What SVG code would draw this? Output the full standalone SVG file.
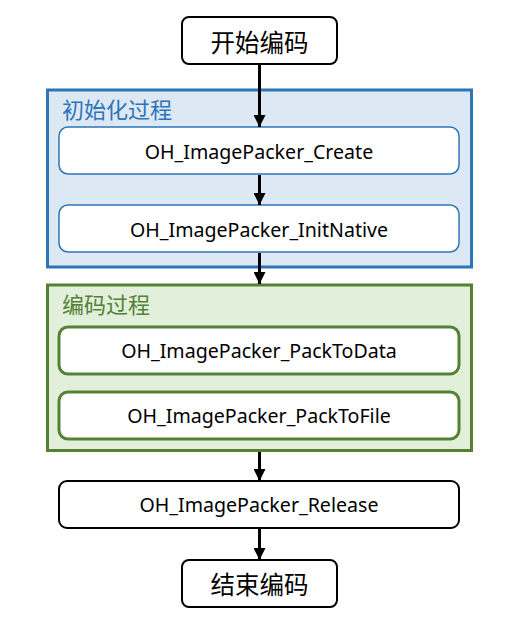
<svg xmlns="http://www.w3.org/2000/svg" width="512" height="631" viewBox="0 0 512 631">
<defs>
<marker id="arr" viewBox="0 0 12 12" refX="12" refY="6" markerWidth="12" markerHeight="12" markerUnits="userSpaceOnUse" orient="auto">
<path d="M0,0 L12,6 L0,12 Z" fill="#000"/>
</marker>
<style>
.t{font-family:"Noto Sans","Liberation Sans","Noto Sans CJK SC",sans-serif;font-size:19.6px;fill:#000;text-anchor:middle;dominant-baseline:central}
.big{font-family:"Noto Sans CJK SC","Noto Sans",sans-serif;font-size:24.5px;fill:#000;text-anchor:middle;dominant-baseline:central}
.gt{font-family:"Noto Sans CJK SC","Noto Sans",sans-serif;font-size:22px}
.term{fill:#fff;stroke:#000;stroke-width:2}
.bn{fill:#fff;stroke:#2e75b6;stroke-width:1.5}
.gn{fill:#fff;stroke:#548235;stroke-width:3}
.edge{stroke:#000;stroke-width:3;fill:none;marker-end:url(#arr)}
</style>
</defs>
<rect width="512" height="631" fill="#fff"/>
<g id="grp-init">
<rect x="47.5" y="90" width="424" height="177" fill="#dde8f5" stroke="#2e75b6" stroke-width="3"/>
<text class="gt" x="62" y="118" fill="#2e75b6">初始化过程</text>
</g>
<g id="grp-encode">
<rect x="47.5" y="285" width="424" height="165.5" fill="#e2efda" stroke="#548235" stroke-width="3"/>
<text class="gt" x="62" y="313" fill="#548235">编码过程</text>
</g>
<g id="start">
<rect class="term" x="182" y="17" width="155" height="47" rx="7"/>
<text class="big" x="259.5" y="41">开始编码</text>
</g>
<g id="create">
<rect class="bn" x="59" y="127" width="400" height="47" rx="9"/>
<text class="t" x="259" y="151">OH_ImagePacker_Create</text>
</g>
<g id="initnative">
<rect class="bn" x="59" y="205" width="400" height="47" rx="9"/>
<text class="t" x="259" y="229">OH_ImagePacker_InitNative</text>
</g>
<g id="packtodata">
<rect class="gn" x="59" y="327" width="400" height="47" rx="9"/>
<text class="t" x="259" y="350">OH_ImagePacker_PackToData</text>
</g>
<g id="packtofile">
<rect class="gn" x="59" y="392" width="400" height="47" rx="9"/>
<text class="t" x="259" y="415">OH_ImagePacker_PackToFile</text>
</g>
<g id="release">
<rect class="term" x="59" y="481" width="400" height="47" rx="8"/>
<text class="t" x="259" y="504">OH_ImagePacker_Release</text>
</g>
<g id="end">
<rect class="term" x="182" y="560" width="155" height="47" rx="7"/>
<text class="big" x="259.5" y="583">结束编码</text>
</g>
<g id="connectors">
<line class="edge" x1="259.5" y1="65" x2="259.5" y2="127"/>
<line class="edge" x1="259.5" y1="175" x2="259.5" y2="205"/>
<line class="edge" x1="259.5" y1="253" x2="259.5" y2="284"/>
<line class="edge" x1="259.5" y1="452" x2="259.5" y2="481"/>
<line class="edge" x1="259.5" y1="529" x2="259.5" y2="560"/>
</g>
</svg>
